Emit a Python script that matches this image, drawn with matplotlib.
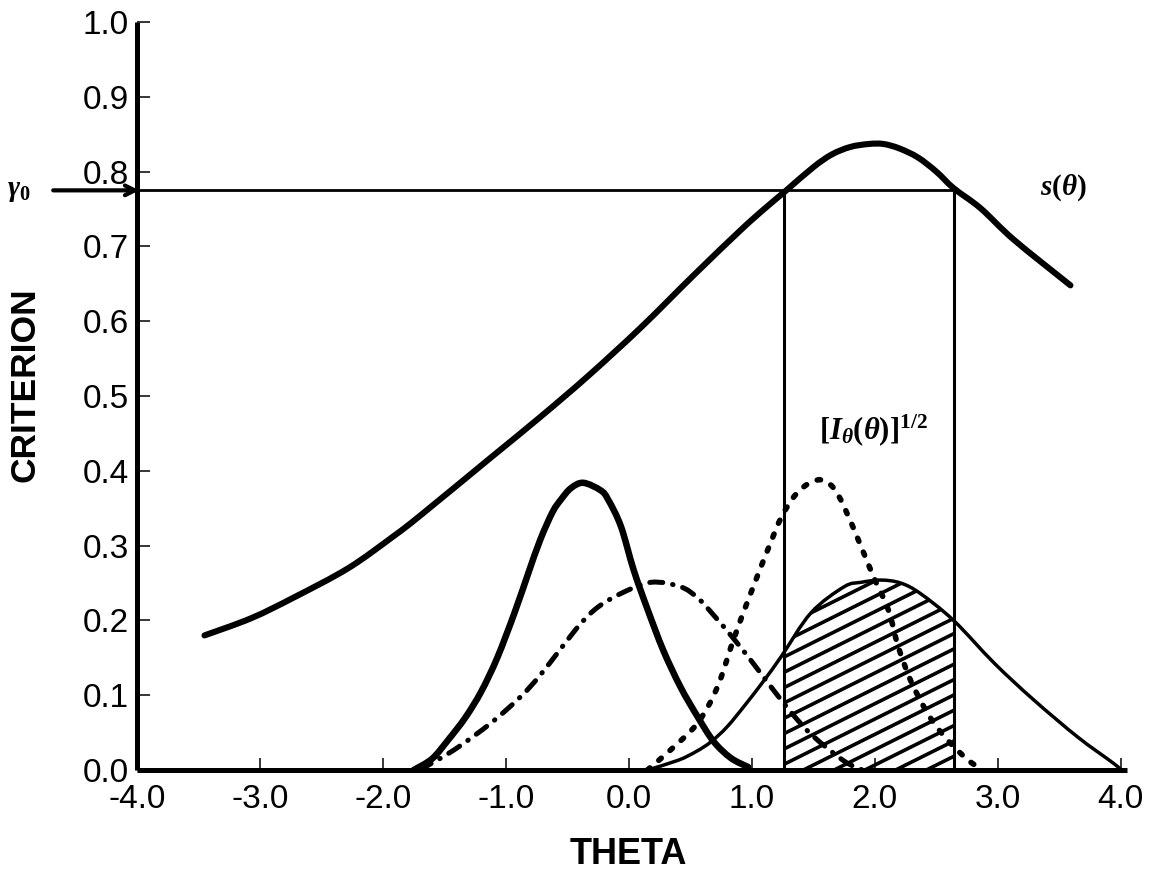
import numpy as np
import matplotlib
matplotlib.use("Agg")
import matplotlib.pyplot as plt
from matplotlib.patches import Polygon, PathPatch
from matplotlib.path import Path

plt.rcParams['font.family'] = ['Liberation Sans', 'DejaVu Sans']
plt.rcParams['mathtext.fontset'] = 'custom'
plt.rcParams['mathtext.it'] = 'Liberation Serif:italic:bold'
plt.rcParams['mathtext.rm'] = 'Liberation Serif:bold'
plt.rcParams['mathtext.bf'] = 'Liberation Serif:bold'

# ---------------- data ----------------
s_x = [-3.45, -3.07, -2.72, -2.28, -1.91, -1.69, -1.12, -0.72, -0.33, 0.10, 0.53,
       0.91, 1.10, 1.28, 1.50, 1.65, 1.80, 1.95, 2.07, 2.20, 2.35, 2.50, 2.64, 2.86,
       3.13, 3.59]
s_y = [0.180, 0.203, 0.231, 0.270, 0.313, 0.341, 0.418, 0.472, 0.527, 0.592, 0.662,
       0.722, 0.750, 0.775, 0.806, 0.823, 0.833, 0.837, 0.837, 0.831, 0.819, 0.800,
       0.778, 0.751, 0.709, 0.648]

peak_x = [-1.75, -1.60, -1.47, -1.33, -1.20, -1.07, -0.93, -0.82, -0.72, -0.62,
          -0.55, -0.47, -0.37, -0.23, -0.17, -0.065, 0.04, 0.154, 0.28, 0.42, 0.56,
          0.69, 0.83, 0.97]
peak_y = [0.0, 0.015, 0.040, 0.070, 0.105, 0.150, 0.210, 0.262, 0.308, 0.345,
          0.362, 0.377, 0.384, 0.374, 0.362, 0.326, 0.267, 0.214, 0.160, 0.111, 0.071,
          0.038, 0.016, 0.004]

dd_x = [-1.70, -1.42, -1.12, -0.88, -0.72, -0.55, -0.39, -0.25, -0.065, 0.18, 0.42,
        0.56, 0.69, 0.85, 1.00, 1.18, 1.34, 1.50, 1.75, 1.90]
dd_y = [0.0, 0.027, 0.063, 0.098, 0.127, 0.163, 0.196, 0.218, 0.236, 0.251, 0.245,
        0.230, 0.207, 0.176, 0.145, 0.106, 0.073, 0.045, 0.012, 0.0]

dot_x = [0.15, 0.34, 0.56, 0.72, 0.85, 0.99, 1.15, 1.24, 1.34, 1.45, 1.56, 1.66,
         1.75, 1.89, 1.99, 2.11, 2.19, 2.29, 2.40, 2.48, 2.59, 2.76, 2.88]
dot_y = [0.0, 0.027, 0.063, 0.111, 0.174, 0.236, 0.303, 0.338, 0.365, 0.382, 0.388,
         0.378, 0.352, 0.298, 0.258, 0.214, 0.165, 0.120, 0.084, 0.063, 0.040, 0.013, 0.0]

thin_x = [0.15, 0.40, 0.55, 0.67, 0.80, 0.95, 1.10, 1.24, 1.48, 1.75, 1.89, 2.05,
          2.21, 2.37, 2.64, 2.97, 3.29, 3.65, 3.94, 4.00]
thin_y = [0.0, 0.013, 0.025, 0.038, 0.058, 0.088, 0.120, 0.152, 0.210, 0.245, 0.251,
          0.254, 0.250, 0.236, 0.200, 0.143, 0.094, 0.044, 0.009, 0.0]

gamma0 = 0.775
theta_lo, theta_hi = 1.26, 2.64

x_ticks = [-4.0, -3.0, -2.0, -1.0, 0.0, 1.0, 2.0, 3.0, 4.0]
x_ticklabels = ['-4.0', '-3.0', '-2.0', '-1.0', '0.0', '1.0', '2.0', '3.0', '4.0']
y_ticks = [0.0, 0.1, 0.2, 0.3, 0.4, 0.5, 0.6, 0.7, 0.8, 0.9, 1.0]
y_ticklabels = ['0.0', '0.1', '0.2', '0.3', '0.4', '0.5', '0.6', '0.7', '0.8', '0.9', '1.0']


def smooth_path(xs, ys):
    """Bezier path passing through the read points (rendering only)."""
    p = np.column_stack([xs, ys]).astype(float)
    n = len(p)
    verts = [p[0]]
    codes = [Path.MOVETO]
    for i in range(n - 1):
        p0 = p[i - 1] if i > 0 else p[i]
        p1, p2 = p[i], p[i + 1]
        p3 = p[i + 2] if i + 2 < n else p[i + 1]
        c1 = p1 + (p2 - p0) / 6.0
        c2 = p2 - (p3 - p1) / 6.0
        verts += [c1, c2, p2]
        codes += [Path.CURVE4] * 3
    return Path(np.array(verts), codes)


def draw_curve(ax, xs, ys, **kw):
    patch = PathPatch(smooth_path(xs, ys), facecolor='none', edgecolor='black',
                      transform=ax.transData, **kw)
    ax.add_patch(patch)
    return patch


# ---------------- figure ----------------
fig = plt.figure(figsize=(11.5, 8.9), dpi=100)
ax = fig.add_axes([0.119, 0.1348, 0.861, 0.8404])
ax.set_xlim(-4.0, 4.05)
ax.set_ylim(0.0, 1.0)

for side in ['top', 'right']:
    ax.spines[side].set_visible(False)
for side in ['left', 'bottom']:
    ax.spines[side].set_linewidth(3.6)
    ax.spines[side].set_capstyle('butt')

ax.set_xticks(x_ticks)
ax.set_xticklabels(x_ticklabels)
ax.set_yticks(y_ticks)
ax.set_yticklabels(y_ticklabels)
ax.tick_params(axis='both', direction='in', width=1.1, labelsize=24, colors='black')
ax.tick_params(axis='x', length=8.5, pad=10)
ax.tick_params(axis='y', length=9.5, pad=6)

ax.set_xlabel('THETA', fontsize=26, fontweight='bold')
ax.set_ylabel('CRITERION', fontsize=25.5, fontweight='bold')
ax.xaxis.set_label_coords(0.496, -0.089)
ax.yaxis.set_label_coords(-0.096, 0.515)

# hatched area under thin curve between theta_lo and theta_hi
tx = np.array(thin_x)
ty = np.array(thin_y)
inside = (tx > theta_lo) & (tx < theta_hi)
hx = np.concatenate([[theta_lo], tx[inside], [theta_hi]])
hy = np.concatenate([[np.interp(theta_lo, tx, ty)], ty[inside], [np.interp(theta_hi, tx, ty)]])
poly_pts = np.column_stack([np.concatenate([[theta_lo], hx, [theta_hi]]),
                            np.concatenate([[0.0], hy, [0.0]])])
clip_poly = Polygon(poly_pts, closed=True, facecolor='none', edgecolor='none',
                    transform=ax.transData)
ax.add_patch(clip_poly)
slope = 0.082
spacing = 0.0205
for c in np.arange(-0.30, 0.30, spacing):
    xs = np.array([theta_lo - 0.1, theta_hi + 0.1])
    ln, = ax.plot(xs, c + slope * (xs - theta_lo), color='black', lw=2.6,
                  solid_capstyle='butt', zorder=2)
    ln.set_clip_path(clip_poly)

# reference lines
ax.plot([-4.0, theta_hi], [gamma0, gamma0], color='black', lw=2.0, zorder=3)
ax.plot([theta_lo, theta_lo], [0.0, gamma0], color='black', lw=2.2, zorder=3)
ax.plot([theta_hi, theta_hi], [0.0, gamma0], color='black', lw=2.2, zorder=3)

# curves
draw_curve(ax, s_x, s_y, lw=4.4, capstyle='round', joinstyle='round', zorder=4)
draw_curve(ax, peak_x, peak_y, lw=4.7, capstyle='round', joinstyle='round', zorder=4)
draw_curve(ax, thin_x, thin_y, lw=2.5, joinstyle='round', zorder=4)
draw_curve(ax, dd_x, dd_y, lw=3.6, linestyle=(0, (2.6, 2.0, 0.1, 2.0)),
           capstyle='round', zorder=4)
draw_curve(ax, dot_x, dot_y, lw=4.0, linestyle=(0, (0.6, 2.1)),
           capstyle='round', zorder=4)

# arrow for gamma_0
ax.annotate('', xy=(-3.98, gamma0), xytext=(-4.68, gamma0), xycoords='data',
            arrowprops=dict(arrowstyle='->,head_length=0.7,head_width=0.35', lw=3.0,
                            color='black', shrinkA=0, shrinkB=0),
            annotation_clip=False)
ax.text(-4.96, gamma0, r'$\gamma_0$', fontsize=21, ha='center', va='center',
        clip_on=False)

# annotations
ax.text(3.34, 0.778, r'$s(\theta)$', fontsize=21, ha='left', va='center', clip_on=False)
ax.text(1.55, 0.455, r'$[I_\theta(\theta)]^{1/2}$', fontsize=22, ha='left', va='center')

fig.savefig('out.png', dpi=100, facecolor='white')
